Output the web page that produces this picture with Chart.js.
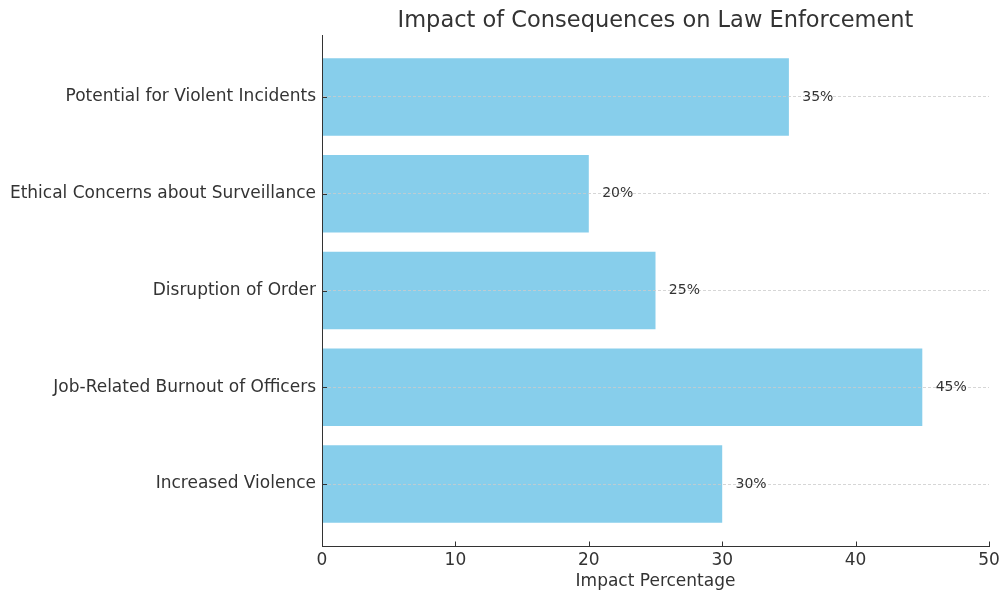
<!DOCTYPE html>
<html>
<head>
<meta charset="utf-8">
<title>Impact of Consequences on Law Enforcement</title>
<script src="https://cdn.jsdelivr.net/npm/chart.js@4.4.0/dist/chart.umd.min.js"></script>
<style>
  html, body { margin: 0; padding: 0; background: #fff; }
  #wrap { width: 1005px; height: 591px; }
</style>
</head>
<body>
<div id="wrap"><canvas id="myChart" width="1005" height="591"></canvas></div>
<script>
// categories top to bottom, with their impact percentages
const categories = [
  "Potential for Violent Incidents",
  "Ethical Concerns about Surveillance",
  "Disruption of Order",
  "Job-Related Burnout of Officers",
  "Increased Violence"
];
const impactValues = [35, 20, 25, 45, 30];
const xTicks = [0, 10, 20, 30, 40, 50];

const chartTitle = "Impact of Consequences on Law Enforcement";
const textColor = "#333333";
const fontFamily = "'DejaVu Sans', sans-serif";

// title centred over the plot area instead of the whole canvas
const plotTitle = {
  id: "plotTitle",
  afterDraw(chart) {
    const { ctx, chartArea } = chart;
    ctx.save();
    ctx.font = "22.5px " + fontFamily;
    ctx.fillStyle = textColor;
    ctx.textAlign = "center";
    ctx.textBaseline = "alphabetic";
    ctx.fillText(chartTitle, (chartArea.left + chartArea.right) / 2, 27);
    ctx.restore();
  }
};

// short tick marks pointing into the plot
const innerTicks = {
  id: "innerTicks",
  afterDraw(chart) {
    const { ctx, chartArea } = chart;
    const xs = chart.scales.x;
    const ys = chart.scales.y;
    ctx.save();
    ctx.strokeStyle = textColor;
    ctx.lineWidth = 1;
    ctx.beginPath();
    xs.ticks.forEach((t) => {
      const px = Math.round(xs.getPixelForValue(t.value)) + 0.5;
      ctx.moveTo(px, chartArea.bottom);
      ctx.lineTo(px, chartArea.bottom - 4.5);
    });
    ys.ticks.forEach((t) => {
      const py = Math.round(ys.getPixelForValue(t.value)) + 0.5;
      ctx.moveTo(chartArea.left, py);
      ctx.lineTo(chartArea.left + 5, py);
    });
    ctx.stroke();
    ctx.restore();
  }
};

// value labels just past the end of each bar
const valueLabels = {
  id: "valueLabels",
  afterDraw(chart) {
    const ctx = chart.ctx;
    const xScale = chart.scales.x;
    const meta = chart.getDatasetMeta(0);
    ctx.save();
    ctx.font = "14px " + fontFamily;
    ctx.fillStyle = textColor;
    ctx.textAlign = "left";
    ctx.textBaseline = "middle";
    meta.data.forEach((bar, i) => {
      const v = impactValues[i];
      ctx.fillText(v + "%", xScale.getPixelForValue(v + 1), bar.y);
    });
    ctx.restore();
  }
};

const ctx = document.getElementById("myChart").getContext("2d");
const myChart = new Chart(ctx, {
  type: "bar",
  data: {
    datasets: [{
      label: "Impact Percentage",
      data: impactValues.map((v, i) => ({ x: v, y: i })),
      backgroundColor: "#87CEEB",
      borderWidth: 0,
      categoryPercentage: 1,
      barPercentage: 0.8
    }]
  },
  options: {
    indexAxis: "y",
    responsive: false,
    animation: false,
    layout: { padding: { left: 0, right: 16, top: 35, bottom: 0 } },
    plugins: {
      legend: { display: false },
      tooltip: { enabled: false },
      title: { display: false }
    },
    scales: {
      x: {
        type: "linear",
        min: 0,
        max: 50,
        afterBuildTicks: (scale) => { scale.ticks = xTicks.map(v => ({ value: v })); },
        afterFit: (scale) => { scale.height = 45; },
        ticks: {
          color: textColor,
          font: { family: fontFamily, size: 17 },
          padding: 4,
          maxRotation: 0
        },
        grid: {
          drawOnChartArea: false,
          drawTicks: false
        },
        border: { color: textColor, width: 1 },
        title: {
          display: true,
          text: "Impact Percentage",
          color: textColor,
          font: { family: fontFamily, size: 17 },
          padding: { top: 0, bottom: -1 }
        }
      },
      y: {
        type: "linear",
        reverse: true,
        offset: false,
        min: -0.64,
        max: 4.64,
        afterBuildTicks: (scale) => { scale.ticks = categories.map((c, i) => ({ value: i })); },
        afterFit: (scale) => { scale.width = 322; },
        ticks: {
          color: textColor,
          font: { family: fontFamily, size: 17 },
          padding: 6,
          callback: (value) => categories[value]
        },
        grid: {
          z: 1,
          offset: false,
          drawTicks: false,
          color: "#cccccc",
          lineWidth: 0.8
        },
        border: { z: 2, color: textColor, width: 1, dash: [3, 2] }
      }
    }
  },
  plugins: [valueLabels, innerTicks, plotTitle]
});
</script>
</body>
</html>
